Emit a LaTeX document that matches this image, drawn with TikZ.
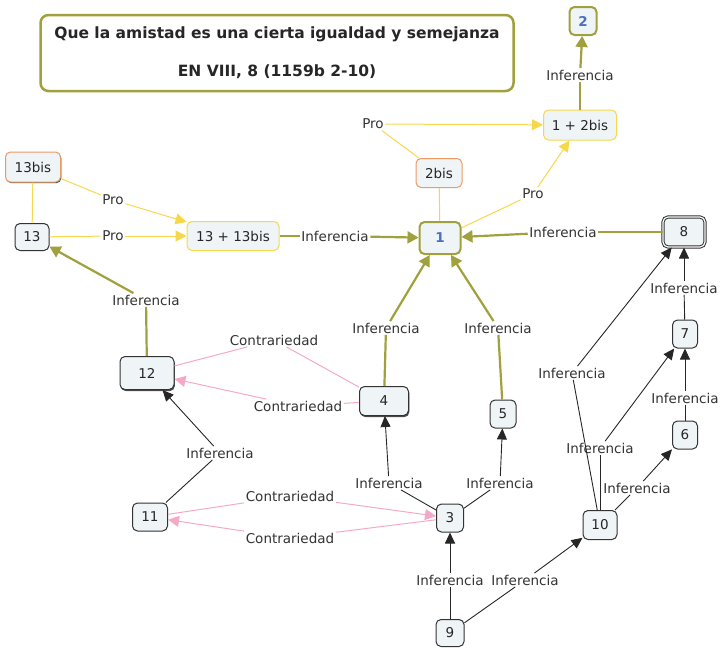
\documentclass[tikz,border=0pt]{standalone}
\usepackage{fontspec}
\setmainfont{DejaVu Sans}
\usetikzlibrary{arrows.meta,shadows}
\definecolor{cOlive}{HTML}{A0A03C}
\definecolor{cYellow}{HTML}{F7D84C}
\definecolor{cPink}{HTML}{F5A9C8}
\definecolor{cOrange}{HTML}{EE9A62}
\definecolor{cFill}{HTML}{EFF4F7}
\definecolor{cDark}{HTML}{333333}
\definecolor{cBlue}{HTML}{4A6FC0}
\tikzset{
  x=1pt, y=-1pt,
  txt/.style={font=\fontsize{13.5}{15}\selectfont},
  box/.style={txt, draw=cDark, fill=cFill, rounded corners=5pt, line width=1pt,
    inner sep=2pt, text=black!85},
  ybox/.style={box, draw=cYellow},
  obox/.style={box, draw=cOrange},
  gbox/.style={box, draw=cOlive, line width=2pt, text=cBlue, font=\fontsize{13.5}{15}\selectfont\bfseries},
  sbox/.style={box, drop shadow={shadow xshift=0.8pt, shadow yshift=-1.6pt, fill=black!70, opacity=1}},
  lab/.style={txt, fill=white, inner sep=1.5pt, text=black!80},
  inf/.style={draw=cOlive, line width=2.2pt},
  infa/.style={inf, -{Triangle[length=11pt,width=12pt]}},
  pro/.style={draw=cYellow, line width=1pt},
  proa/.style={pro, -{Triangle[length=11pt,width=11pt]}},
  con/.style={draw=cPink, line width=1pt},
  cona/.style={con, -{Triangle[length=11pt,width=11pt]}},
  blk/.style={draw=black!85, line width=0.9pt},
  blka/.style={blk, -{Triangle[length=11pt,width=10pt]}},
}
\begin{document}
\begin{tikzpicture}
\useasboundingbox (0,0) rectangle (720,653);

% heading
\node[draw=cOlive, line width=2.5pt, rounded corners=8pt, minimum width=473pt,
  minimum height=76pt, align=center, font=\fontsize{15.5}{17}\selectfont\bfseries,
  text=black!85] (title) at (277,53)
  {Que la amistad es una cierta igualdad y semejanza\\[21pt]EN VIII, 8 (1159b 2-10)};

% propositions
\node[gbox, minimum width=27pt, minimum height=28pt] (n2) at (583,21) {2};
\node[ybox, minimum width=73pt, minimum height=30pt] (n12b) at (580,125) {1 + 2bis};
\node[obox, minimum width=46pt, minimum height=29pt] (n2bis) at (439,173) {2bis};
\node[obox, minimum width=55pt, minimum height=30pt,
  drop shadow={shadow xshift=0.8pt, shadow yshift=-1.2pt, fill=black!70, opacity=1}] (n13bis) at (33,167) {13bis};
\node[box, minimum width=34pt, minimum height=27pt] (n13) at (32,237) {13};
\node[ybox, minimum width=92pt, minimum height=29pt] (n1313) at (233,236) {13 + 13bis};
\node[gbox, minimum width=41pt, minimum height=32pt] (n1) at (440,238) {1};
\node[box, double, double distance=1.2pt, minimum width=42pt, minimum height=30pt] (n8) at (684,232) {8};
\node[box, minimum width=25pt, minimum height=28pt] (n7) at (685,334) {7};
\node[box, minimum width=25pt, minimum height=28pt] (n6) at (685,435) {6};
\node[box, minimum width=34pt, minimum height=29pt] (n10) at (600,525) {10};
\node[box, minimum width=28pt, minimum height=27pt] (n9) at (450,633) {9};
\node[box, minimum width=27pt, minimum height=28pt] (n3) at (450,518) {3};
\node[box, minimum width=35pt, minimum height=28pt] (n11) at (150,517) {11};
\node[box, minimum width=26pt, minimum height=28pt] (n5) at (503,414) {5};
\node[sbox, minimum width=49pt, minimum height=29pt] (n4) at (384,401) {4};
\node[sbox, minimum width=54pt, minimum height=33pt] (n12) at (147,373) {12};

% link labels
\node[lab] (lInf2) at (580,75) {Inferencia};
\node[lab] (lPro1) at (373,124) {Pro};
\node[lab] (lPro2) at (533,194) {Pro};
\node[lab] (lPro3) at (113,200) {Pro};
\node[lab] (lPro4) at (113,236) {Pro};
\node[lab] (lInf1313) at (335,236) {Inferencia};
\node[lab] (lInf8) at (563,232) {Inferencia};
\node[lab] (lInf4) at (386,328) {Inferencia};
\node[lab] (lInf5) at (498,328) {Inferencia};
\node[lab] (lInf12) at (146,300) {Inferencia};
\node[lab] (lCon1) at (274,340) {Contrariedad};
\node[lab] (lCon2) at (298,406) {Contrariedad};
\node[lab] (lCon3) at (290,496) {Contrariedad};
\node[lab] (lCon4) at (290,538) {Contrariedad};
\node[lab] (lInf11) at (220,453) {Inferencia};
\node[lab] (lInf3a) at (389,483) {Inferencia};
\node[lab] (lInf3b) at (500,483) {Inferencia};
\node[lab] (lInf9a) at (450,580) {Inferencia};
\node[lab] (lInf9b) at (525,580) {Inferencia};
\node[lab] (lInf10a) at (572,373) {Inferencia};
\node[lab] (lInf10b) at (600,448) {Inferencia};
\node[lab] (lInf10c) at (637,488) {Inferencia};
\node[lab] (lInf6) at (685,398) {Inferencia};
\node[lab] (lInf7) at (684,288) {Inferencia};

% olive inference links
\draw[inf] (n12b) -- (lInf2); \draw[infa] (lInf2) -- (n2);
\draw[inf] (n1313) -- (lInf1313); \draw[infa] (lInf1313) -- (n1);
\draw[inf] (n8) -- (lInf8); \draw[infa] (lInf8) -- (n1);
\draw[inf] (n4) -- (lInf4); \draw[infa] (lInf4) -- (n1);
\draw[inf] (n5) -- (lInf5); \draw[infa] (lInf5) -- (n1);
\draw[inf] (n12) -- (lInf12); \draw[infa] (lInf12) -- (n13);

% yellow "Pro" links
\draw[pro] (n2bis) -- (lPro1); \draw[proa] (lPro1) -- (n12b);
\draw[pro] (n1) -- (lPro2); \draw[proa] (lPro2) -- (n12b);
\draw[pro] (n2bis) -- (n1);
\draw[pro] (n13bis) -- (lPro3); \draw[proa] (lPro3) -- (n1313);
\draw[pro] (n13) -- (lPro4); \draw[proa] (lPro4) -- (n1313);
\draw[pro] (n13bis) -- (n13);

% pink contrariety links
\draw[con] (n4) -- (lCon1); \draw[con] (lCon1) -- (n12);
\draw[con] (n4) -- (lCon2); \draw[cona] (lCon2) -- (n12);
\draw[con] (n11) -- (lCon3); \draw[cona] (lCon3) -- (n3);
\draw[con] (n3) -- (lCon4); \draw[cona] (lCon4) -- (n11);

% black inference links
\draw[blk] (n11) -- (lInf11); \draw[blka] (lInf11) -- (n12);
\draw[blk] (n3) -- (lInf3a); \draw[blka] (lInf3a) -- (n4);
\draw[blk] (n3) -- (lInf3b); \draw[blka] (lInf3b) -- (n5);
\draw[blk] (n9) -- (lInf9a); \draw[blka] (lInf9a) -- (n3);
\draw[blk] (n9) -- (lInf9b); \draw[blka] (lInf9b) -- (n10);
\draw[blk] (n10) -- (lInf10a); \draw[blka] (lInf10a) -- (n8);
\draw[blk] (n10) -- (lInf10b); \draw[blka] (lInf10b) -- (n7);
\draw[blk] (n10) -- (lInf10c); \draw[blka] (lInf10c) -- (n6);
\draw[blk] (n6) -- (lInf6); \draw[blka] (lInf6) -- (n7);
\draw[blk] (n7) -- (lInf7); \draw[blka] (lInf7) -- (n8);
\end{tikzpicture}
\end{document}
